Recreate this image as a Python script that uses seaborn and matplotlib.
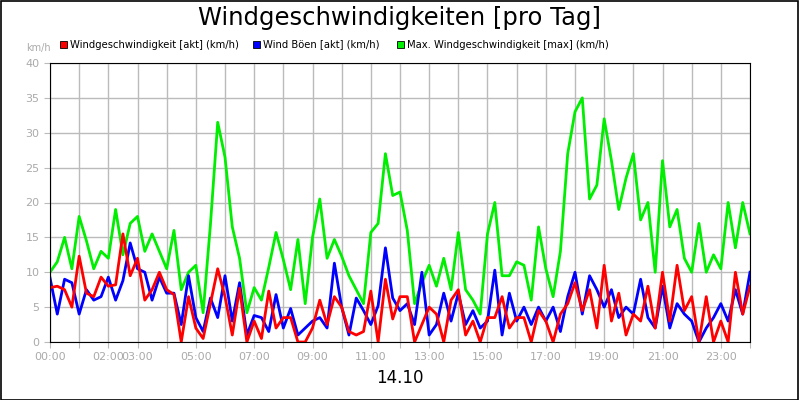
import numpy as np
import pandas as pd
import seaborn as sns
import matplotlib.pyplot as plt
from matplotlib.patches import Rectangle

# values every 15 minutes, 00:00 .. 24:00
wind = [7.8, 8, 7.5, 5, 12.3, 7, 6.5, 9.3, 8, 8.2, 15.5, 9.5, 12, 6, 7.5, 10,
        7.5, 6.8, 0, 6.5, 2, 0.5, 5.5, 10.5, 6.5, 1, 7.7, 0, 3, 0.5, 7.3, 2,
        3.5, 3.5, 0, 0, 2, 6, 2.5, 6.5, 5, 1.5, 1, 1.5, 7.3, 0, 9, 3.3,
        6.5, 6.5, 0, 2.5, 5, 4, 0, 6, 7.5, 1, 3, 0, 3.5, 3.5, 6.5, 2,
        3.5, 3.5, 0, 4.5, 3, 0, 4, 5.5, 8.5, 4.5, 7.5, 2, 11, 3, 7, 1,
        4, 3, 8, 2, 10, 3, 11, 4.5, 6.5, 0, 6.5, 0, 3, 0, 10, 4, 8]
gust = [9.2, 4, 9, 8.5, 4, 7.5, 6, 6.5, 9.3, 6, 8.8, 14.2, 10.5, 10, 6, 9.3,
        7, 7, 2.5, 9.5, 3.5, 1.5, 6.3, 3.5, 9.5, 3, 8.5, 1, 3.8, 3.5, 1.5, 6.8,
        2, 4.8, 1, 2, 3, 3.5, 2, 11.3, 5, 1, 6.3, 4.5, 2.5, 5.2, 13.5, 6.3,
        4.5, 5.5, 2.5, 10, 1, 2.5, 7, 3, 7, 2.5, 4.5, 2, 3, 10.3, 1, 7,
        3, 5, 2.5, 5, 3, 5, 1.5, 6.5, 10, 4, 9.5, 7.5, 5, 7.5, 3.5, 5,
        4, 9, 3.5, 2, 8, 2, 5.5, 4, 3, 0, 2, 3.5, 5.5, 3, 7.5, 4, 10]
maxw = [10, 11.5, 15, 10.5, 18, 14.5, 10.5, 13, 12, 19, 12.5, 17, 18, 13, 15.5, 13,
        10.5, 16, 7.5, 10, 11, 4.2, 16.8, 31.5, 26.5, 16.5, 12, 4.2, 7.8, 6, 10.7, 15.7,
        11.8, 7.5, 14.7, 5.5, 15, 20.5, 12, 14.7, 12.3, 9.5, 7.5, 5.5, 15.7, 17, 27, 21,
        21.5, 16, 5.5, 8.5, 11, 8, 12, 7.5, 15.7, 7.5, 6, 4, 15.5, 20, 9.5, 9.5,
        11.5, 11, 6, 16.5, 10.5, 6.5, 13, 27, 33, 35, 20.5, 22.5, 32, 26, 19, 23.5,
        27, 17.5, 20, 10, 26, 16.5, 19, 12, 10, 17, 10, 12.5, 10.5, 20, 13.5, 20, 15.5]
hours = np.arange(len(wind)) * 0.25
tick_hours = [0, 2, 3, 5, 7, 9, 11, 13, 15, 17, 19, 21, 23]
tick_labels = ["00:00", "02:00", "03:00", "05:00", "07:00", "09:00", "11:00",
               "13:00", "15:00", "17:00", "19:00", "21:00", "23:00"]

df = pd.DataFrame({"h": hours, "wind": wind, "gust": gust, "max": maxw})

fig = plt.figure(figsize=(8, 4), dpi=100, facecolor="white")
fig.patches.append(Rectangle((0.001, 0.001), 0.997, 0.997, transform=fig.transFigure,
                             fill=False, edgecolor="black", lw=1.2))
ax = fig.add_axes([50/800, 1-342/400, 700/800, 279/400])
sns.lineplot(data=df, x="h", y="max", color="#00ee00", lw=2, ax=ax)
sns.lineplot(data=df, x="h", y="gust", color="#0000ff", lw=2, ax=ax)
sns.lineplot(data=df, x="h", y="wind", color="#ff0000", lw=2, ax=ax)
ax.set_xlim(0, 24)
ax.set_ylim(0, 40)
ax.set_xticks(range(0, 25), minor=False)
ax.set_xticklabels([tick_labels[tick_hours.index(h)] if h in tick_hours else "" for h in range(25)])
ax.set_yticks(range(0, 41, 5))
ax.grid(True, color="#bbbbbb", lw=1)
ax.set_axisbelow(True)
ax.tick_params(colors="#bbbbbb", labelcolor="#aaaaaa", labelsize=8, length=4)
for s in ax.spines.values():
    s.set_color("black")
ax.set_xlabel("")
ax.set_ylabel("")

fig.text(0.5, 1-18/400, "Windgeschwindigkeiten [pro Tag]", ha="center", va="center", fontsize=17.5)
fig.text(0.5, 1-378/400, "14.10", ha="center", va="center", fontsize=12)
fig.text(38/800, 1-48/400, "km/h", ha="center", va="center", fontsize=7, color="#aaaaaa")
legend = [(60, "#ff0000", "Windgeschwindigkeit [akt] (km/h)"),
          (253, "#0000ff", "Wind Böen [akt] (km/h)"),
          (397, "#00ee00", "Max. Windgeschwindigkeit [max] (km/h)")]
for x, c, t in legend:
    fig.patches.append(Rectangle((x/800, 1-48/400), 7/800, 7/400, transform=fig.transFigure,
                                 facecolor=c, edgecolor="black", lw=0.6))
    fig.text((x+10)/800, 1-44.5/400, t, va="center", fontsize=7.2)
fig.savefig("out.png", dpi=100, facecolor="white")
